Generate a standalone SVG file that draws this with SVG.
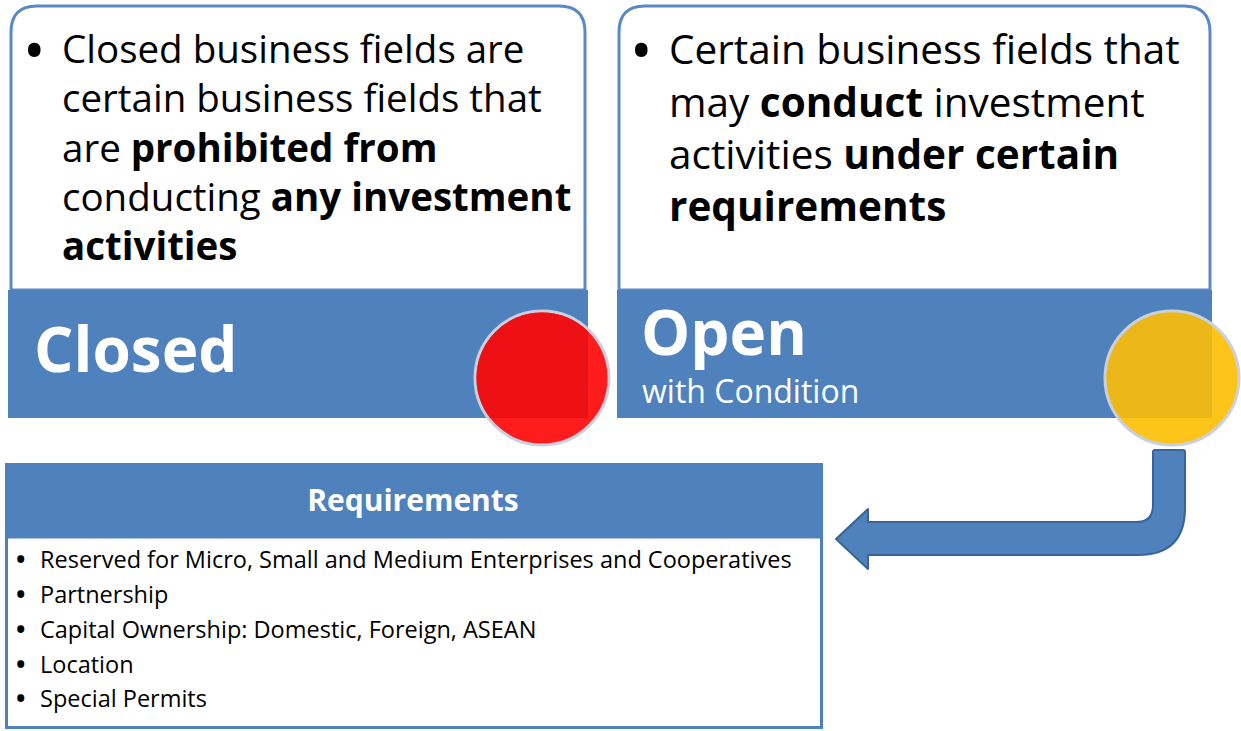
<svg xmlns="http://www.w3.org/2000/svg" width="1241" height="731" viewBox="0 0 1241 731">
<defs>
<style>
.card{fill:#ffffff;stroke:#5a8ac6;stroke-width:3}
.band{fill:#4f81bd}
.body{font-family:"Open Sans","Noto Sans",sans-serif;fill:#000}
.l{font-size:38.5px}
.r{font-size:40.5px}
.b{font-weight:bold}
.dot{font-size:60px}
.big{font-family:"Open Sans","Noto Sans",sans-serif;font-weight:bold;fill:#fff}
.sub{font-family:"Open Sans","Noto Sans",sans-serif;fill:#fff;font-size:32px}
.ring{stroke:#c9d0e0;stroke-width:3}
.req{font-family:"Open Sans","Noto Sans",sans-serif;font-size:23.5px;fill:#000}
.rdot{font-size:25px;font-weight:bold}
</style>
<clipPath id="bandL"><rect x="8" y="290" width="580" height="128"/></clipPath>
<clipPath id="bandR"><rect x="617" y="290" width="595" height="128"/></clipPath>
</defs>

<g id="closed">
<path class="card" d="M11,290 V32 Q11,6 37,6 H559 Q585,6 585,32 V290 Z"/>
<rect class="band" x="8" y="290" width="580" height="128"/>
<text class="body dot" x="23" y="72">•</text>
<text class="body l" x="62" y="63">Closed business fields are</text>
<text class="body l" x="62" y="112">certain business fields that</text>
<text class="body l" x="62" y="162">are <tspan class="b">prohibited from</tspan></text>
<text class="body l" x="62" y="211">conducting <tspan class="b">any investment</tspan></text>
<text class="body l b" x="62" y="260">activities</text>
<text class="big" x="34" y="372" font-size="62">Closed</text>
<circle class="ring" cx="542" cy="378" r="67" fill="#ff1c1c"/>
<circle cx="542" cy="378" r="65.5" fill="#ed1015" clip-path="url(#bandL)"/>
</g>

<g id="open">
<path class="card" d="M619,290 V32 Q619,6 645,6 H1184 Q1210,6 1210,32 V290 Z"/>
<rect class="band" x="617" y="290" width="595" height="128"/>
<text class="body dot" x="630" y="72">•</text>
<text class="body r" x="669" y="64">Certain business fields that</text>
<text class="body r" x="669" y="117">may <tspan class="b">conduct</tspan> investment</text>
<text class="body r" x="669" y="169">activities <tspan class="b">under certain</tspan></text>
<text class="body r b" x="669" y="221">requirements</text>
<text class="big" x="641" y="355" font-size="62">Open</text>
<text class="sub" x="642" y="403">with Condition</text>
<circle class="ring" cx="1172" cy="378" r="67" fill="#fdc41a"/>
<circle cx="1172" cy="378" r="65.5" fill="#ecb719" clip-path="url(#bandR)"/>
</g>

<g id="connectors">
<path d="M1153,452 Q1153,450 1155,450 H1183 Q1185,450 1185,452 V508 Q1185,555 1138,555 H868 V569 L836,539 L868,509 V522 H1136 Q1153,522 1153,505 Z" fill="#4f81bd" stroke="#3a6396" stroke-width="2" stroke-linejoin="round"/>
</g>

<g id="requirements">
<rect x="5" y="463" width="818" height="74" fill="#4f81bd"/>
<rect x="6.5" y="537" width="815" height="190.5" fill="#fff" stroke="#4f81bd" stroke-width="3"/>
<text x="413" y="511" text-anchor="middle" font-family="Open Sans, Noto Sans, sans-serif" font-weight="bold" font-size="30" fill="#fff">Requirements</text>
<g class="req">
<text class="rdot" x="16" y="568">•</text><text x="40" y="568">Reserved for Micro, Small and Medium Enterprises and Cooperatives</text>
<text class="rdot" x="16" y="603">•</text><text x="40" y="603">Partnership</text>
<text class="rdot" x="16" y="638">•</text><text x="40" y="638">Capital Ownership: Domestic, Foreign, ASEAN</text>
<text class="rdot" x="16" y="673">•</text><text x="40" y="673">Location</text>
<text class="rdot" x="16" y="707">•</text><text x="40" y="707">Special Permits</text>
</g>
</g>
</svg>
